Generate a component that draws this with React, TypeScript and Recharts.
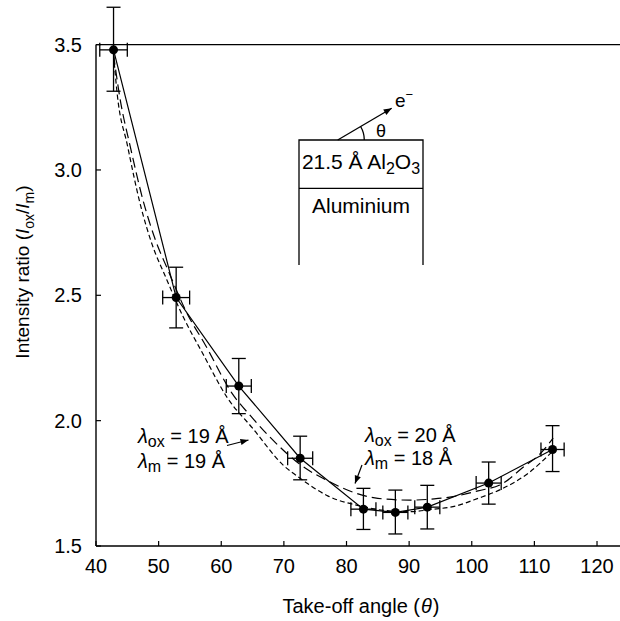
import { ComposedChart, Line, Scatter, XAxis, YAxis, ErrorBar, ReferenceLine } from 'recharts'

// measured points (take-off angle, intensity ratio) with error bars
const angle = [42.8, 52.8, 62.8, 72.6, 82.7, 87.8, 92.9, 102.7, 112.9]
const ratio = [3.479, 2.491, 2.138, 1.85, 1.647, 1.634, 1.655, 1.751, 1.885]
const ratioErrLow = [0.165, 0.121, 0.11, 0.086, 0.081, 0.086, 0.087, 0.084, 0.088]
const ratioErrHigh = [0.17, 0.121, 0.11, 0.088, 0.083, 0.089, 0.087, 0.084, 0.095]
const angleErr = [2.2, 2.15, 2.0, 2.0, 2.0, 2.0, 2.0, 2.0, 1.85]

// model curve, lambda_ox = 19 A, lambda_m = 19 A (short dashes)
const fitAx = [42.8, 43.4, 45, 47, 49, 51, 54, 57, 61, 65, 70, 72.6, 77, 82.7, 86, 90, 94, 97, 101, 105, 109, 113]
const fitAy = [3.46, 3.3, 3.1, 2.87, 2.7, 2.58, 2.41, 2.27, 2.09, 1.97, 1.82, 1.77, 1.7, 1.657, 1.642, 1.637, 1.647, 1.657, 1.69, 1.73, 1.79, 1.88]

// model curve, lambda_ox = 20 A, lambda_m = 18 A (long dashes)
const fitBx = [42.8, 43.8, 45.5, 47.5, 49.5, 51.5, 54.5, 57.5, 61.7, 65, 70, 72.6, 77, 81, 85, 90, 94, 97, 101, 105, 108, 111, 113]
const fitBy = [3.46, 3.29, 3.09, 2.88, 2.72, 2.6, 2.43, 2.3, 2.11, 2.01, 1.88, 1.825, 1.76, 1.715, 1.69, 1.683, 1.688, 1.697, 1.72, 1.75, 1.81, 1.87, 1.93]

const xTicks = [40, 50, 60, 70, 80, 90, 100, 110, 120]
const yTicks = [1.5, 2.0, 2.5, 3.0, 3.5]

const points = angle.map((x, i) => ({
  x,
  y: ratio[i],
  ex: angleErr[i],
  ey: [ratioErrLow[i], ratioErrHigh[i]],
}))
const fitA = fitAx.map((x, i) => ({ x, y: fitAy[i] }))
const fitB = fitBx.map((x, i) => ({ x, y: fitBy[i] }))

const font = "'Liberation Sans', Arial, sans-serif"

export default function App() {
  return (
    <div style={{ position: 'absolute', left: 0, top: 0, width: 620, height: 621, background: '#fff', fontFamily: font }}>
      <ComposedChart width={620} height={621} margin={{ top: 7, right: 0, bottom: 0, left: 0 }}>
        <XAxis
          dataKey="x"
          type="number"
          domain={[40, 123.67]}
          ticks={xTicks}
          height={75}
          tickSize={-5}
          tickMargin={18}
          tick={{ fill: '#000', fontSize: 20 }}
          axisLine={{ stroke: '#000', strokeWidth: 1.4 }}
          tickLine={{ stroke: '#000', strokeWidth: 1.2 }}
        />
        <YAxis
          type="number"
          domain={[1.5, 3.65]}
          ticks={yTicks}
          width={96}
          tickSize={-5}
          tickMargin={19}
          tickFormatter={(v: number) => v.toFixed(1)}
          tick={{ fill: '#000', fontSize: 20 }}
          axisLine={false}
          tickLine={{ stroke: '#000', strokeWidth: 1.2 }}
        />
        <ReferenceLine y={3.5} stroke="#000" strokeWidth={1.4} />
        <ReferenceLine segment={[{ x: 40, y: 1.5 }, { x: 40, y: 3.5 }]} stroke="#000" strokeWidth={1.4} />
        <Line data={fitA} dataKey="y" type="monotone" stroke="#000" strokeWidth={1.2} strokeDasharray="5 3" dot={false} isAnimationActive={false} />
        <Line data={fitB} dataKey="y" type="monotone" stroke="#000" strokeWidth={1.2} strokeDasharray="10 5" dot={false} isAnimationActive={false} />
        <Line data={points} dataKey="y" type="linear" stroke="#000" strokeWidth={1.2} dot={false} isAnimationActive={false} />
        <Scatter data={points} dataKey="y" fill="#000" isAnimationActive={false}>
          <ErrorBar dataKey="ey" direction="y" width={7} stroke="#000" strokeWidth={1.3} isAnimationActive={false} />
          <ErrorBar dataKey="ex" direction="x" width={7} stroke="#000" strokeWidth={1.3} isAnimationActive={false} />
        </Scatter>
      </ComposedChart>

      <svg width={620} height={621} style={{ position: 'absolute', left: 0, top: 0, pointerEvents: 'none' }}>
        <defs>
          <marker id="ah" viewBox="0 0 10 10" refX="10" refY="5" markerWidth="9" markerHeight="8" orient="auto" markerUnits="userSpaceOnUse">
            <path d="M0,1 L10,5 L0,9 z" fill="#000" />
          </marker>
        </defs>

        {/* axis titles */}
        <text transform="translate(29,272) rotate(-90)" textAnchor="middle" fontSize={19} fill="#000">
          Intensity ratio (<tspan fontStyle="italic">I</tspan>
          <tspan dy={5} fontSize={14}>ox</tspan>
          <tspan dy={-5}>/</tspan>
          <tspan fontStyle="italic">I</tspan>
          <tspan dy={5} fontSize={14}>m</tspan>
          <tspan dy={-5}>)</tspan>
        </text>
        <text x={361} y={613} textAnchor="middle" fontSize={20} fill="#000">
          Take-off angle (<tspan fontStyle="italic" dx={1}>θ</tspan><tspan dx={1}>)</tspan>
        </text>

        {/* model labels */}
        <text x={138} y={443} fontSize={20} fill="#000">
          <tspan fontStyle="italic">λ</tspan>
          <tspan dy={4} fontSize={16}>ox</tspan>
          <tspan dy={-4}> = 19 Å</tspan>
        </text>
        <text x={138} y={468} fontSize={20} fill="#000">
          <tspan fontStyle="italic">λ</tspan>
          <tspan dy={4} fontSize={16}>m</tspan>
          <tspan dy={-4}> = 19 Å</tspan>
        </text>
        <line x1={227} y1={445.5} x2={248.5} y2={440} stroke="#000" strokeWidth={1.2} markerEnd="url(#ah)" />

        <text x={365} y={442} fontSize={20} fill="#000">
          <tspan fontStyle="italic">λ</tspan>
          <tspan dy={4} fontSize={16}>ox</tspan>
          <tspan dy={-4}> = 20 Å</tspan>
        </text>
        <text x={365} y={465} fontSize={20} fill="#000">
          <tspan fontStyle="italic">λ</tspan>
          <tspan dy={4} fontSize={16}>m</tspan>
          <tspan dy={-4}> = 18 Å</tspan>
        </text>
        <line x1={362} y1={465} x2={355} y2={483.5} stroke="#000" strokeWidth={1.2} markerEnd="url(#ah)" />

        {/* sample sketch */}
        <g stroke="#000" strokeWidth={1.3} fill="none">
          <polyline points="299,265 299,140 423,140 423,265" />
          <line x1={299} y1={188.3} x2={423} y2={188.3} />
          <path d="M364.3,140 A26.6,26.6 0 0 0 360.6,126.5" />
          <line x1={337.7} y1={140} x2={391.7} y2={108.3} markerEnd="url(#ah)" />
        </g>
        <text x={361} y={168.5} textAnchor="middle" fontSize={21} fill="#000">
          21.5 Å Al<tspan dy={5} fontSize={16}>2</tspan>
          <tspan dy={-5}>O</tspan>
          <tspan dy={5} fontSize={16}>3</tspan>
        </text>
        <text x={361} y={213} textAnchor="middle" fontSize={21} fill="#000">Aluminium</text>
        <text x={376} y={136.5} fontSize={18} fill="#000">θ</text>
        <text x={395} y={107} fontSize={19} fill="#000">
          e<tspan dy={-8} fontSize={13}>−</tspan>
        </text>
      </svg>
    </div>
  )
}
